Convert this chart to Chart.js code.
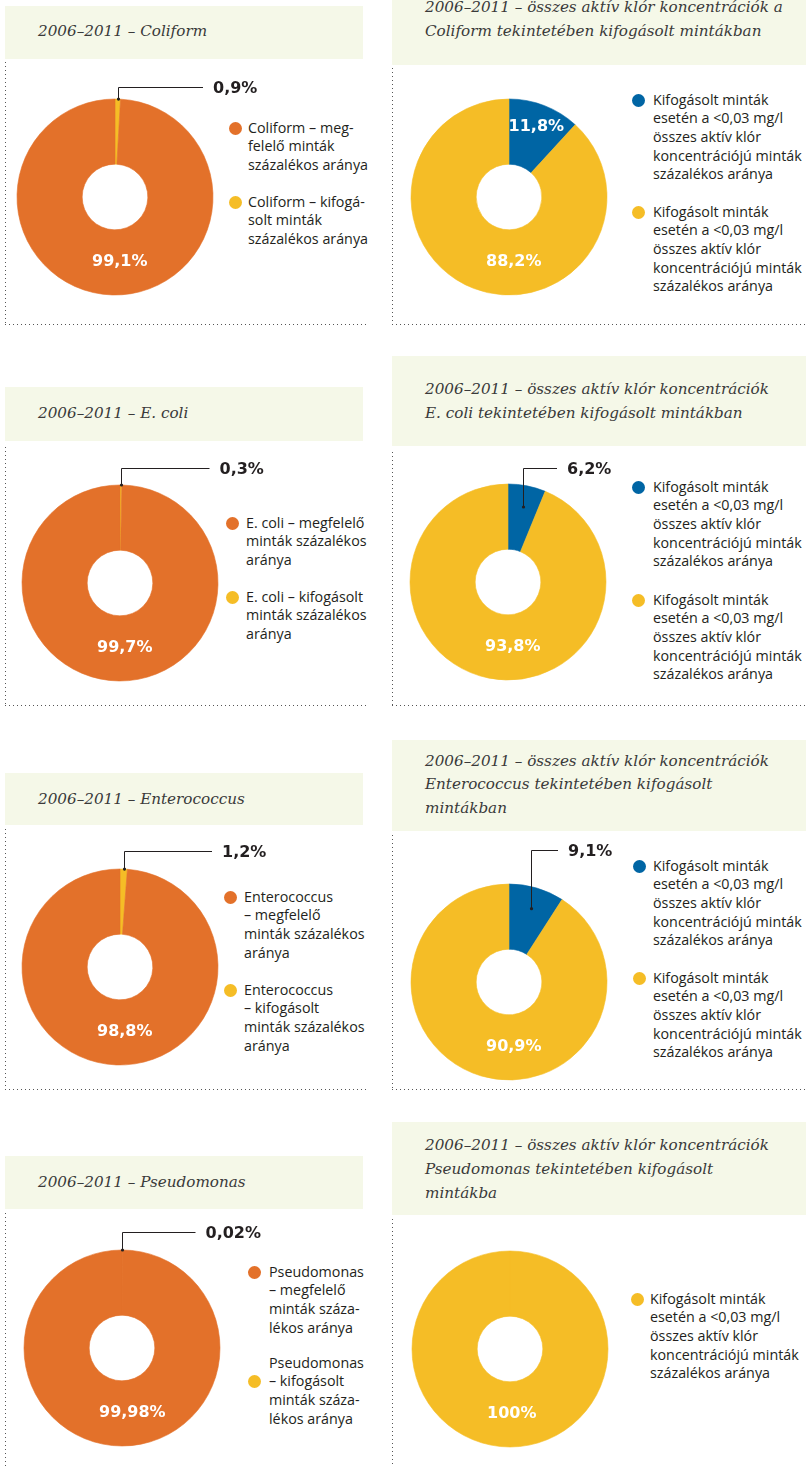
<!DOCTYPE html>
<html lang="hu">
<head>
<meta charset="utf-8">
<title>Kifogásolt minták 2006–2011</title>
<script src="https://cdn.jsdelivr.net/npm/chart.js@4.4.1/dist/chart.umd.min.js"></script>
<style>
  body { margin: 0; background: #fff; }
  #page { position: relative; width: 806px; height: 1467px; overflow: hidden; font-family: 'Open Sans', sans-serif; color: #231f20; }
  .title { position: absolute; background: #f5f8e8; }
  .title span { position: absolute; left: 33px; font-family: 'DejaVu Serif', serif; font-style: italic; font-size: 15.2px; color: #3a3a3a; white-space: nowrap; line-height: 20px; }
  .vdots { position: absolute; width: 1px; background: repeating-linear-gradient(to bottom, #555 0 1px, transparent 1px 4px); }
  .hdots { position: absolute; height: 1px; background: repeating-linear-gradient(to right, #555 0 1px, transparent 1px 4px); }
  canvas { position: absolute; }
  .leg { position: absolute; font-size: 14.3px; line-height: 18.7px; white-space: nowrap; }
  .dot { position: absolute; width: 13px; height: 13px; border-radius: 50%; }
</style>
</head>
<body>
<div id="page"></div>
<script>
const ORANGE = '#e3712a';
const YELLOW = '#f5bd26';
const BLUE = '#0065a4';

// bal oldali diagramok: kifogásolt / megfelelő minták
const coliformValues = [0.9, 99.1];
const ecoliValues = [0.3, 99.7];
const enteroValues = [1.2, 98.8];
const pseudoValues = [0.02, 99.98];

// jobb oldali diagramok: <0,03 mg/l aktív klór a kifogásolt mintákban
const chlorColiformValues = [11.8, 88.2];
const chlorEcoliValues = [6.2, 93.8];
const chlorEnteroValues = [9.1, 90.9];
const chlorPseudoValues = [100];

const titles = [
  ['2006–2011 – Coliform'],
  ['2006–2011 – összes aktív klór koncentrációk a', 'Coliform tekintetében kifogásolt mintákban'],
  ['2006–2011 – E. coli'],
  ['2006–2011 – összes aktív klór koncentrációk', 'E. coli tekintetében kifogásolt mintákban'],
  ['2006–2011 – Enterococcus'],
  ['2006–2011 – összes aktív klór koncentrációk', 'Enterococcus tekintetében kifogásolt', 'mintákban'],
  ['2006–2011 – Pseudomonas'],
  ['2006–2011 – összes aktív klór koncentrációk', 'Pseudomonas tekintetében kifogásolt', 'mintákba']
];

const coliformLegend = [['Coliform – meg-', 'felelő minták', 'százalékos aránya'], ['Coliform – kifogá-', 'solt minták', 'százalékos aránya']];
const ecoliLegend = [['E. coli – megfelelő', 'minták százalékos', 'aránya'], ['E. coli – kifogásolt', 'minták százalékos', 'aránya']];
const enteroLegend = [['Enterococcus', '– megfelelő', 'minták százalékos', 'aránya'], ['Enterococcus', '– kifogásolt', 'minták százalékos', 'aránya']];
const pseudoLegend = [['Pseudomonas', '– megfelelő', 'minták száza-', 'lékos aránya'], ['Pseudomonas', '– kifogásolt', 'minták száza-', 'lékos aránya']];
const chlorItem = ['Kifogásolt minták', 'esetén a <0,03 mg/l', 'összes aktív klór', 'koncentrációjú minták', 'százalékos aránya'];

// elrendezés (pixel pozíciók)
const panels = [
  { values: coliformValues, colors: [YELLOW, ORANGE], legend: coliformLegend, legendColors: [ORANGE, YELLOW],
    tb: [5, 6, 358, 53], ty: [31], dots: [5, 62, 324, 366], cx: 114.5, cy: 197,
    lx: 235, tx: 248, ly: [128, 202], dotLine: [0, 0], callout: { dy: -110, lineTo: 88 } },
  { values: chlorColiformValues, colors: [BLUE, YELLOW], legend: [chlorItem, chlorItem], legendColors: [BLUE, YELLOW],
    tb: [392, -20, 414, 85], ty: [7, 31], dots: [392, 68, 324, 806], cx: 508.5, cy: 197,
    lx: 638, tx: 653, ly: [100, 212], dotLine: [0, 0] },
  { values: ecoliValues, colors: [YELLOW, ORANGE], legend: ecoliLegend, legendColors: [ORANGE, YELLOW],
    tb: [5, 387, 358, 54], ty: [413], dots: [5, 447, 705, 366], cx: 119.5, cy: 582.5,
    lx: 232, tx: 246, ly: [523, 597], dotLine: [0, 0], callout: { dy: -115.5, lineTo: 89.5 } },
  { values: chlorEcoliValues, colors: [BLUE, YELLOW], legend: [chlorItem, chlorItem], legendColors: [BLUE, YELLOW],
    tb: [392, 356, 414, 90], ty: [389, 413], dots: [392, 452, 705, 806], cx: 508, cy: 581.5,
    lx: 638, tx: 653, ly: [487, 600], dotLine: [0, 0], callout: { dy: -114.5, lineTo: 49 } },
  { values: enteroValues, colors: [YELLOW, ORANGE], legend: enteroLegend, legendColors: [ORANGE, YELLOW],
    tb: [5, 773, 358, 52], ty: [799], dots: [5, 829, 1089, 366], cx: 120, cy: 967,
    lx: 230, tx: 244, ly: [897, 990], dotLine: [0, 0], callout: { dy: -116, lineTo: 92 } },
  { values: chlorEnteroValues, colors: [BLUE, YELLOW], legend: [chlorItem, chlorItem], legendColors: [BLUE, YELLOW],
    tb: [392, 740, 414, 91], ty: [761, 784, 808], dots: [392, 835, 1089, 806], cx: 509, cy: 982,
    lx: 639, tx: 653, ly: [866, 978], dotLine: [0, 0], callout: { dy: -132, lineTo: 49 } },
  { values: pseudoValues, colors: [YELLOW, ORANGE], legend: pseudoLegend, legendColors: [ORANGE, YELLOW],
    tb: [5, 1156, 358, 53], ty: [1182], dots: [5, 1213, null, 366], cx: 121.5, cy: 1348,
    lx: 254, tx: 269, ly: [1272, 1363], dotLine: [0, 1], callout: { dy: -116, lineTo: 73.5 } },
  { values: chlorPseudoValues, colors: [YELLOW], legend: [chlorItem], legendColors: [YELLOW],
    tb: [392, 1122, 414, 93], ty: [1145, 1169, 1193], dots: [392, 1219, null, 806], cx: 510, cy: 1349,
    lx: 637, tx: 650, ly: [1299], dotLine: [0] }
];

const sliceLabels = {
  id: 'sliceLabels',
  afterDatasetsDraw(chart, args, opts) {
    const ctx = chart.ctx;
    const data = chart.data.datasets[0].data;
    chart.getDatasetMeta(0).data.forEach((arc, i) => {
      const v = data[i];
      const { x, y, startAngle, endAngle, innerRadius, outerRadius } = arc;
      const mid = (startAngle + endAngle) / 2;
      const text = String(v).replace('.', ',') + '%';
      ctx.save();
      ctx.font = 'bold 16px "DejaVu Sans"';
      ctx.textBaseline = 'middle';
      if (v >= 50) {
        ctx.fillStyle = '#fff';
        ctx.textAlign = 'left';
        ctx.fillText(text, x - 23, y + (innerRadius + outerRadius) / 2 - 1);
      } else if (v >= 10) {
        const r = outerRadius * 0.77;
        ctx.fillStyle = '#fff';
        ctx.textAlign = 'center';
        ctx.fillText(text, x + Math.cos(mid) * r, y + Math.sin(mid) * r);
      } else if (opts.callout) {
        const r = v < 3 ? outerRadius : outerRadius * 0.78;
        const ax = Math.round(x + Math.cos(mid) * r) + 0.5;
        const ay = y + Math.sin(mid) * r;
        const ly = Math.round(y + opts.callout.dy) + 0.5;
        const lx = x + opts.callout.lineTo;
        ctx.strokeStyle = '#231f20';
        ctx.lineWidth = 1;
        ctx.beginPath();
        ctx.moveTo(ax, ay);
        ctx.lineTo(ax, ly);
        ctx.lineTo(lx, ly);
        ctx.stroke();
        ctx.beginPath();
        ctx.arc(ax, ay, 1.6, 0, Math.PI * 2);
        ctx.fillStyle = '#231f20';
        ctx.fill();
        ctx.textAlign = 'left';
        ctx.fillText(text, lx + 10, ly + 1);
      }
      ctx.restore();
    });
  }
};

const page = document.getElementById('page');
const LH = 18.7;

function addDiv(cls, css) {
  const d = document.createElement('div');
  d.className = cls;
  Object.assign(d.style, css);
  page.appendChild(d);
  return d;
}

panels.forEach((p, n) => {
  // címsáv
  const tb = addDiv('title', { left: p.tb[0] + 'px', top: p.tb[1] + 'px', width: p.tb[2] + 'px', height: p.tb[3] + 'px' });
  titles[n].forEach((line, k) => {
    const s = document.createElement('span');
    s.textContent = line;
    s.style.top = (p.ty[k] - p.tb[1] - 10) + 'px';
    tb.appendChild(s);
  });

  // pontozott keret
  const [dx, dtop, dbottom, dright] = p.dots;
  addDiv('vdots', { left: dx + 'px', top: dtop + 'px', height: ((dbottom || 1467) - dtop) + 'px' });
  if (dbottom) addDiv('hdots', { left: dx + 'px', top: dbottom + 'px', width: (dright - dx) + 'px' });

  // jelmagyarázat
  p.legend.forEach((lines, k) => {
    const y0 = p.ly[k];
    const t = addDiv('leg', { left: p.tx + 'px', top: (y0 - LH / 2) + 'px' });
    t.innerHTML = lines.map(l => l.replace(/</g, '&lt;')).join('<br>');
    const cy = y0 + p.dotLine[k] * LH;
    addDiv('dot', { left: (p.lx - 6.5) + 'px', top: (cy - 6.5) + 'px', background: p.legendColors[k] });
  });

  // fánk diagram
  const W = 300, H = 280, PT = 20;
  const c = document.createElement('canvas');
  c.width = W;
  c.height = H;
  c.style.left = (p.cx - 110) + 'px';
  c.style.top = (p.cy - 130 - PT) + 'px';
  page.appendChild(c);

  new Chart(c, {
    type: 'doughnut',
    data: {
      labels: p.values.map((v, i) => i),
      datasets: [{
        data: p.values,
        backgroundColor: p.colors,
        borderColor: p.colors,
        borderWidth: 0.6,
        radius: 98,
        cutout: '33.5%'
      }]
    },
    options: {
      responsive: false,
      animation: false,
      radius: 98,
      cutout: '33.5%',
      layout: { padding: { left: 0, right: W - 220, top: PT, bottom: 0 } },
      plugins: {
        legend: { display: false },
        tooltip: { enabled: false },
        sliceLabels: { callout: p.callout }
      }
    },
    plugins: [sliceLabels]
  });
});
</script>
</body>
</html>
